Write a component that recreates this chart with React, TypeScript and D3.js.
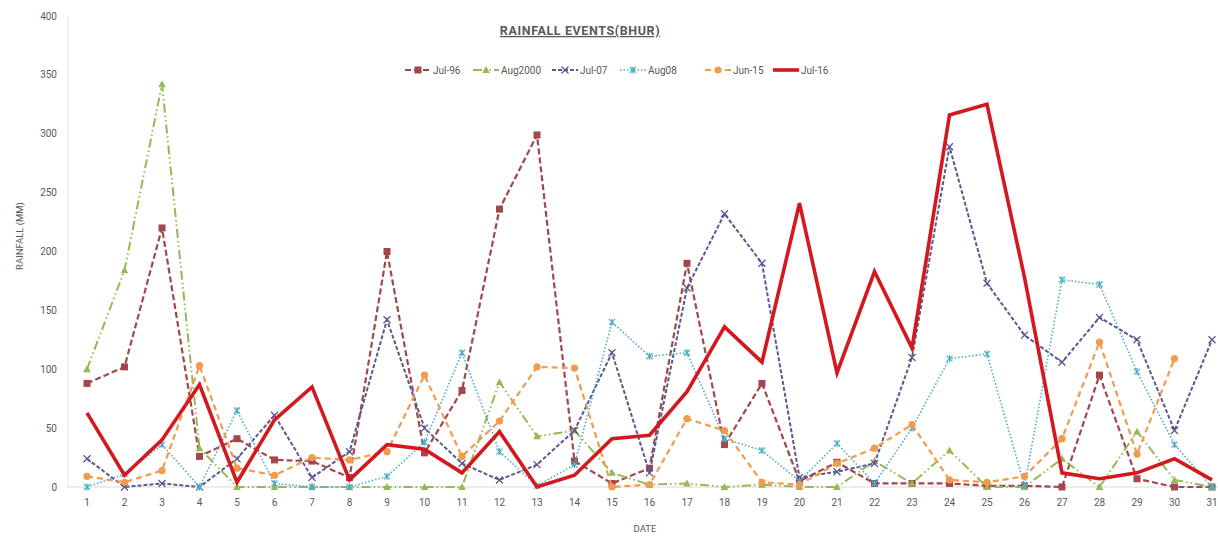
import React from "react";
import * as d3 from "d3";

const days: number[] = d3.range(1, 32);
const yTicks: number[] = [0, 50, 100, 150, 200, 250, 300, 350, 400];

const jul96: (number | null)[] = [88, 102, 220, 26, 41, 23, 22, 8, 200, 29, 82, 236, 299, 22, 3, 16, 190, 36, 88, 5, 21, 3, 3, 3, 1, 1, 0, 95, 7, 0, 0];
const aug2000: (number | null)[] = [100, 184, 342, 33, 0, 0, 0, 0, 0, 0, 0, 89, 43, 48, 12, 2, 3, 0, 2, 0, 0, 22, 3, 31, 0, 0, 24, 0, 47, 6, 0];
const jul07: (number | null)[] = [24, 0, 3, 0, 24, 61, 8, 30, 142, 50, 20, 6, 19, 48, 114, 12, 169, 232, 190, 8, 13, 20, 110, 289, 173, 129, 106, 144, 125, 48, 125];
const aug08: (number | null)[] = [0, 11, 36, 0, 65, 3, 0, 0, 9, 38, 114, 30, 1, 19, 140, 111, 114, 41, 31, 5, 37, 3, 50, 109, 113, 1, 176, 172, 98, 36, 0];
const jun15: (number | null)[] = [9, 4, 14, 103, 16, 10, 25, 23, 30, 95, 26, 56, 102, 101, 0, 2, 58, 48, 4, 2, 20, 33, 53, 6, 4, 9, 41, 123, 28, 109, null];
const jul16: (number | null)[] = [63, 10, 40, 87, 4, 57, 85, 6, 36, 32, 12, 47, 0, 10, 41, 44, 81, 136, 106, 241, 97, 183, 118, 316, 325, 178, 12, 7, 12, 24, 6];

type Marker = "square" | "triangle" | "cross" | "asterisk" | "circle" | "dash";

interface Series {
  name: string;
  values: (number | null)[];
  color: string;
  width: number;
  dash: string;
  marker: Marker;
}

const series: Series[] = [
  { name: "Jul-96", values: jul96, color: "#A2474C", width: 2.2, dash: "6,3", marker: "square" },
  { name: "Aug2000", values: aug2000, color: "#95B954", width: 2, dash: "9,3,1.5,3,1.5,3", marker: "triangle" },
  { name: "Jul-07", values: jul07, color: "#5B5890", width: 2, dash: "4,2", marker: "cross" },
  { name: "Aug08", values: aug08, color: "#4BACC6", width: 1.6, dash: "1.5,2", marker: "asterisk" },
  { name: "Jun-15", values: jun15, color: "#F29B4C", width: 2.2, dash: "6,4", marker: "circle" },
  { name: "Jul-16", values: jul16, color: "#D3191E", width: 3.6, dash: "", marker: "dash" },
];

const legendX: number[] = [405, 473, 552, 620, 705, 773];

const FONT = "'Liberation Sans Narrow', 'Roboto', 'Liberation Sans', sans-serif";
const TEXT = "#595959";

const W = 1218;
const H = 537;
const plotLeft = 68;
const plotRight = 1232;
const plotTop = 16;
const plotBottom = 487;

function MarkerShape({ type, x, y, color }: { type: Marker; x: number; y: number; color: string }) {
  switch (type) {
    case "square":
      return <rect x={x - 3.5} y={y - 3.5} width={7} height={7} fill={color} />;
    case "triangle":
      return <path d={`M${x},${y - 4}L${x + 3.8},${y + 3}L${x - 3.8},${y + 3}Z`} fill={color} />;
    case "cross":
      return (
        <path
          d={`M${x - 3.5},${y - 3.5}L${x + 3.5},${y + 3.5}M${x - 3.5},${y + 3.5}L${x + 3.5},${y - 3.5}`}
          stroke={color}
          strokeWidth={1.3}
        />
      );
    case "asterisk":
      return (
        <path
          d={`M${x - 3},${y - 3}L${x + 3},${y + 3}M${x - 3},${y + 3}L${x + 3},${y - 3}M${x},${y - 3.5}L${x},${y + 3.5}`}
          stroke={color}
          strokeWidth={1.2}
        />
      );
    case "circle":
      return <circle cx={x} cy={y} r={3.6} fill={color} />;
    case "dash":
      return <path d={`M${x - 4},${y}L${x + 4},${y}`} stroke={color} strokeWidth={1.5} />;
  }
}

export default function App() {
  const x = d3.scalePoint<number>().domain(days).range([87, 1212]);
  const y = d3.scaleLinear().domain([0, 400]).range([plotBottom, plotTop]);

  const line = d3
    .line<number | null>()
    .defined((d) => d !== null)
    .x((_, i) => x(days[i]) as number)
    .y((d) => y(d as number));

  return (
    <svg
      width={W}
      height={H}
      style={{ position: "absolute", left: 0, top: 0, background: "#fff" }}
      fontFamily={FONT}
    >
      <rect x={0} y={0} width={W} height={H} fill="#fff" />

      {/* plot frame */}
      <line x1={plotLeft} x2={plotLeft} y1={plotTop} y2={plotBottom} stroke="#E4E4E4" strokeWidth={1} />
      <line x1={plotLeft} x2={plotRight} y1={plotBottom} y2={plotBottom} stroke="#D9D9D9" strokeWidth={1} />

      {/* y axis ticks */}
      {yTicks.map((t) => (
        <text key={t} x={57} y={y(t) + 3.5} textAnchor="end" fontSize={10} fill={TEXT}>
          {t}
        </text>
      ))}

      {/* x axis ticks */}
      {days.map((d) => (
        <text key={d} x={x(d) as number} y={506} textAnchor="middle" fontSize={10} fill={TEXT}>
          {d}
        </text>
      ))}

      <text
        transform={`translate(23,${236}) rotate(-90)`}
        textAnchor="middle"
        fontSize={9.5}
        fill={TEXT}
      >
        RAINFALL (MM)
      </text>
      <text x={645} y={532} textAnchor="middle" fontSize={9.5} fill={TEXT}>
        DATE
      </text>

      {/* title */}
      <text
        x={580}
        y={35}
        textAnchor="middle"
        fontSize={12.5}
        fontWeight="bold"
        fill={TEXT}
        letterSpacing={0.6}
        textDecoration="underline"
        fontFamily="'Roboto', 'Liberation Sans', sans-serif"
      >
        RAINFALL EVENTS(BHUR)
      </text>

      {/* series */}
      {series.map((s) => (
        <g key={s.name}>
          <path
            d={line(s.values) ?? ""}
            fill="none"
            stroke={s.color}
            strokeWidth={s.width}
            strokeDasharray={s.dash || undefined}
            strokeLinejoin="miter"
          />
          {s.marker !== "dash" &&
            s.values.map((v, i) =>
              v === null ? null : (
                <MarkerShape key={i} type={s.marker} x={x(days[i]) as number} y={y(v)} color={s.color} />
              )
            )}
        </g>
      ))}

      {/* legend */}
      {series.map((s, i) => {
        const lx = legendX[i];
        const ly = 70;
        return (
          <g key={s.name}>
            <line
              x1={lx}
              x2={lx + 26}
              y1={ly}
              y2={ly}
              stroke={s.color}
              strokeWidth={s.width}
              strokeDasharray={s.dash || undefined}
            />
            <MarkerShape type={s.marker} x={lx + 13} y={ly} color={s.color} />
            <text x={lx + 28} y={ly + 3.5} fontSize={10} fill={TEXT}>
              {s.name}
            </text>
          </g>
        );
      })}
    </svg>
  );
}
